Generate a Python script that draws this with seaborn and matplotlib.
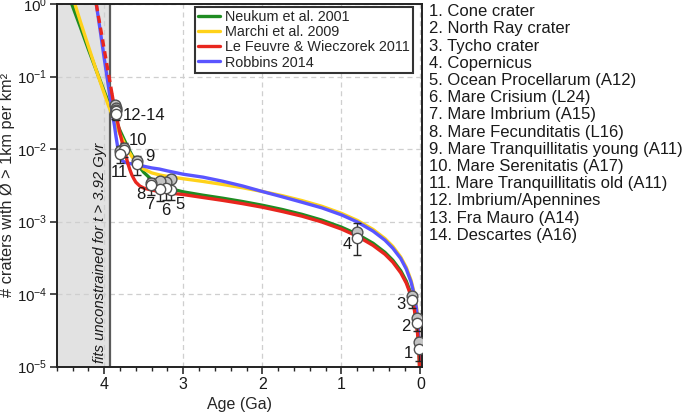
import matplotlib
matplotlib.use("Agg")
import matplotlib.pyplot as plt
import matplotlib.ticker as mticker
import seaborn as sns

# ---------------- data ----------------
neukum_age = [4.41, 4.3, 4.2, 4.1, 4.0, 3.95, 3.9, 3.85, 3.8, 3.75, 3.7, 3.65, 3.6, 3.55, 3.5,
              3.4, 3.3, 3.2, 3.0, 2.75, 2.5, 2.25, 2.0, 1.75, 1.5, 1.25, 1.0, 0.8, 0.6, 0.45,
              0.35, 0.25, 0.18, 0.12, 0.08, 0.05, 0.03, 0.02, 0.014, 0.01]
neukum_n = [1.0, 0.477, 0.238, 0.122, 0.0627, 0.0452, 0.0332, 0.0242, 0.0180, 0.0137, 0.0105,
            0.00828, 0.00675, 0.0056, 0.00479, 0.00378, 0.00323, 0.00291, 0.00257, 0.00231,
            0.0021, 0.00189, 0.00168, 0.00147, 0.00126, 0.00105, 0.000838, 0.00067, 0.000503,
            0.000377, 0.000293, 0.00021, 0.000151, 0.000101, 6.7e-5, 4.2e-5, 2.5e-5, 1.68e-5,
            1.17e-5, 8.4e-6]

marchi_age = [4.37, 4.3, 4.2, 4.1, 4.0, 3.95, 3.9, 3.85, 3.8, 3.75, 3.7, 3.65, 3.6, 3.55, 3.5,
              3.4, 3.3, 3.2, 3.0, 2.75, 2.5, 2.25, 2.0, 1.75, 1.5, 1.25, 1.0, 0.8, 0.6, 0.45,
              0.35, 0.25, 0.18, 0.12, 0.08, 0.05, 0.03, 0.02, 0.014, 0.01]
marchi_n = [1.0, 0.568, 0.262, 0.122, 0.0586, 0.0408, 0.0295, 0.0215, 0.0161, 0.0124, 0.0097,
            0.0079, 0.0067, 0.0059, 0.0053, 0.0047, 0.0044, 0.0042, 0.0039, 0.00358, 0.00325,
            0.00293, 0.0026, 0.00228, 0.00195, 0.00163, 0.0013, 0.00104, 0.00078, 0.000585,
            0.000455, 0.000325, 0.000234, 0.000156, 0.000104, 6.5e-5, 3.9e-5, 2.6e-5, 1.8e-5,
            1.3e-5]

lefeuvre_dash_age = [4.10, 4.05, 4.0, 3.95, 3.90]
lefeuvre_dash_n = [1.0, 0.49, 0.24, 0.117, 0.057]
lefeuvre_age = [3.90, 3.87, 3.85, 3.8, 3.775, 3.75, 3.725, 3.7, 3.675, 3.65, 3.625, 3.6, 3.55,
                3.5, 3.4, 3.3, 3.2, 3.0, 2.75, 2.5, 2.25, 2.0, 1.75, 1.5, 1.25, 1.0, 0.8, 0.6,
                0.45, 0.35, 0.25, 0.18, 0.12, 0.08, 0.05, 0.03, 0.02, 0.014, 0.01]
lefeuvre_n = [0.057, 0.037, 0.030, 0.0165, 0.0128, 0.0102, 0.0080, 0.0063, 0.0052, 0.0044,
              0.0039, 0.0035, 0.0031, 0.0029, 0.00272, 0.0026, 0.0025, 0.00236, 0.00215,
              0.00196, 0.00177, 0.00158, 0.00138, 0.00119, 0.00099, 0.00079, 0.00063, 0.00047,
              0.000355, 0.000276, 0.000197, 0.000142, 9.5e-5, 6.3e-5, 3.95e-5, 2.37e-5,
              1.58e-5, 1.1e-5, 7.9e-6]

robbins_age = [4.10, 4.05, 4.0, 3.95, 3.92, 3.9, 3.87, 3.85, 3.83, 3.81, 3.79, 3.77, 3.74, 3.7,
               3.6, 3.5, 3.4, 3.3, 3.2, 3.0, 2.75, 2.5, 2.25, 2.0, 1.75, 1.5, 1.25, 1.0, 0.8,
               0.6, 0.45, 0.35, 0.25, 0.18, 0.12, 0.08, 0.05, 0.03, 0.02, 0.014, 0.01]
robbins_n = [1.0, 0.43, 0.18, 0.078, 0.047, 0.033, 0.021, 0.0148, 0.0108, 0.0085, 0.0074,
             0.0069, 0.0066, 0.0064, 0.0061, 0.0058, 0.0055, 0.0053, 0.0050, 0.0045, 0.0041,
             0.0036, 0.0031, 0.0026, 0.0022, 0.00185, 0.00155, 0.00124, 0.00099, 0.00074,
             0.000555, 0.00043, 0.00031, 0.000222, 0.000148, 9.9e-5, 6.2e-5, 3.7e-5, 2.5e-5,
             1.73e-5, 1.24e-5]

series_labels = ["Neukum et al. 2001", "Marchi et al. 2009",
                 "Le Feuvre & Wieczorek 2011", "Robbins 2014"]

# calibration sites
site_age = [0.025, 0.05, 0.109, 0.80, 3.15, 3.22, 3.30, 3.41, 3.58, 3.75, 3.80, 3.86, 3.85, 3.855]
gray_n = [2.2e-5, 4.7e-5, 9.3e-5, 7.3e-4, 0.0039, 0.0035, 0.0036, 0.0034, 0.0068, 0.0105,
          0.0093, 0.040, 0.037, 0.035]
white_n = [1.75e-5, 4.0e-5, 8.2e-5, 5.9e-4, 0.0027, 0.0029, 0.0028, 0.0032, 0.0063, 0.0098,
           0.0086, 0.031, 0.033, 0.030]
white_lo = [1.2e-5, 3.1e-5, 6.5e-5, 3.5e-4, 0.0020, 0.0020, 0.0019, 0.0023, 0.0044, 0.0078,
            0.0065, 0.026, 0.027, 0.025]
white_hi = [2.5e-5, 5.0e-5, 1.0e-4, 9.7e-4, 0.0044, 0.0038, 0.0037, 0.0040, 0.0081, 0.0121,
            0.0110, 0.036, 0.038, 0.035]

point_text = ["1", "2", "3", "4", "5", "6", "7", "8", "9", "10", "11", "12-14"]
point_text_age = [0.15, 0.19, 0.25, 0.93, 3.04, 3.22, 3.42, 3.54, 3.42, 3.57, 3.81, 3.49]
point_text_n = [1.5e-5, 3.6e-5, 7.3e-5, 4.8e-4, 0.00171, 0.00141, 0.00171, 0.0024, 0.0079,
                0.0130, 0.0047, 0.0287]

site_names = ["1. Cone crater", "2. North Ray crater", "3. Tycho crater", "4. Copernicus",
              "5. Ocean Procellarum (A12)", "6. Mare Crisium (L24)", "7. Mare Imbrium (A15)",
              "8. Mare Fecunditatis (L16)", "9. Mare Tranquillitatis young (A11)",
              "10. Mare Serenitatis (A17)", "11. Mare Tranquillitatis old (A11)",
              "12. Imbrium/Apennines", "13. Fra Mauro (A14)", "14. Descartes (A16)"]

unconstrained_age = 3.92

# ---------------- style ----------------
sns.set_style("ticks")
plt.rcParams["font.family"] = ["Liberation Sans", "DejaVu Sans"]
plt.rcParams["mathtext.fontset"] = "custom"
plt.rcParams["mathtext.rm"] = "Liberation Sans"
plt.rcParams["mathtext.it"] = "Liberation Sans:italic"
plt.rcParams["axes.unicode_minus"] = False

fig = plt.figure(figsize=(6.85, 4.15), dpi=100)
ax = fig.add_axes([0.0828, 0.1164, 0.5328, 0.874])

c_green = "#1f8c22"
c_yellow = "#ffd21a"
c_red = "#e8261e"
c_blue = "#5a55ff"
lw = 2.4

ax.axvspan(unconstrained_age, 4.6, color="#e2e2e2", zorder=0.1, lw=0)
ax.axvline(unconstrained_age, color="#5a5a5a", lw=1.6, zorder=1)

sns.lineplot(x=neukum_age, y=neukum_n, ax=ax, color=c_green, lw=lw, sort=False,
             label=series_labels[0], zorder=2.0)
sns.lineplot(x=marchi_age, y=marchi_n, ax=ax, color=c_yellow, lw=lw, sort=False,
             label=series_labels[1], zorder=2.1)
sns.lineplot(x=lefeuvre_age, y=lefeuvre_n, ax=ax, color=c_red, lw=lw, sort=False,
             label=series_labels[2], zorder=2.3)
sns.lineplot(x=robbins_age, y=robbins_n, ax=ax, color=c_blue, lw=lw, sort=False,
             label=series_labels[3], zorder=2.2)
sns.lineplot(x=lefeuvre_dash_age, y=lefeuvre_dash_n, ax=ax, color=c_red, lw=lw, sort=False,
             linestyle=(0, (2.2, 1.4)), label="_nolegend_", zorder=2.4)

# data points
yerr = [[w - lo for w, lo in zip(white_n, white_lo)],
        [hi - w for w, hi in zip(white_n, white_hi)]]
ax.errorbar(site_age, white_n, yerr=yerr, fmt="none", ecolor="#262626", elinewidth=1.0,
            capsize=3, capthick=1.0, zorder=5)
sns.scatterplot(x=site_age, y=gray_n, ax=ax, color="#c4c4c4", edgecolor="#505050",
                linewidth=1.0, s=60, zorder=6, legend=False)
sns.scatterplot(x=site_age, y=white_n, ax=ax, color="white", edgecolor="#505050",
                linewidth=1.0, s=55, zorder=7, legend=False)

for t, a, n in zip(point_text, point_text_age, point_text_n):
    ax.text(a, n, t, fontsize=12, ha="center", va="center", color="#1a1a1a", zorder=8)

ax.text(4.05, 1.12e-5, "fits unconstrained for t > 3.92 Gyr", rotation=90, style="italic",
        fontsize=10.7, ha="center", va="bottom", color="#1a1a1a", zorder=3)

ax.set_yscale("log")
ax.set_xlim(4.6, -0.015)
ax.set_ylim(1e-5, 1.0)
ax.xaxis.set_major_locator(mticker.FixedLocator([0, 1, 2, 3, 4]))
ax.xaxis.set_minor_locator(mticker.MultipleLocator(0.2))
ax.xaxis.set_major_formatter(mticker.FormatStrFormatter("%d"))
ax.yaxis.set_major_locator(mticker.LogLocator(base=10, numticks=10))
ax.yaxis.set_minor_locator(mticker.NullLocator())

ax.grid(True, which="major", color="#cfcfcf", lw=0.9, ls=(0, (4, 3)))
ax.set_axisbelow(True)
for s in ax.spines.values():
    s.set_visible(True)
    s.set_color("#222222")
    s.set_linewidth(1.4)
ax.tick_params(which="major", length=5, width=1.1, labelsize=11.5, colors="#1a1a1a",
               direction="out", top=False, right=False, pad=2.5)
ax.tick_params(axis="y", which="major", labelsize=10.8, pad=2)
ax.tick_params(which="minor", length=3, width=1.0, direction="out", top=False, right=False)

ax.set_xlabel("Age (Ga)", fontsize=11.5)
ax.set_ylabel("# craters with Ø > 1km per km²", fontsize=11.8)
ax.xaxis.set_label_coords(0.5, -0.083)
ax.yaxis.set_label_coords(-0.113, 0.5)

handles, labels = ax.get_legend_handles_labels()
order = [labels.index(l) for l in series_labels]
leg = ax.legend([handles[i] for i in order], [labels[i] for i in order],
                loc="upper right", bbox_to_anchor=(0.976, 0.992), borderaxespad=0,
                fontsize=10.4, frameon=True, fancybox=False, framealpha=1,
                edgecolor="#333333", handlelength=1.5, handletextpad=0.35,
                labelspacing=0.08, borderpad=0.22)
leg.get_frame().set_linewidth(1.5)

for i, name in enumerate(site_names):
    fig.text(429 / 685, 1 - (11.7 + 17.2 * i) / 415, name, fontsize=12, ha="left",
             va="center", color="#1a1a1a")

fig.savefig("out.png", dpi=100)
